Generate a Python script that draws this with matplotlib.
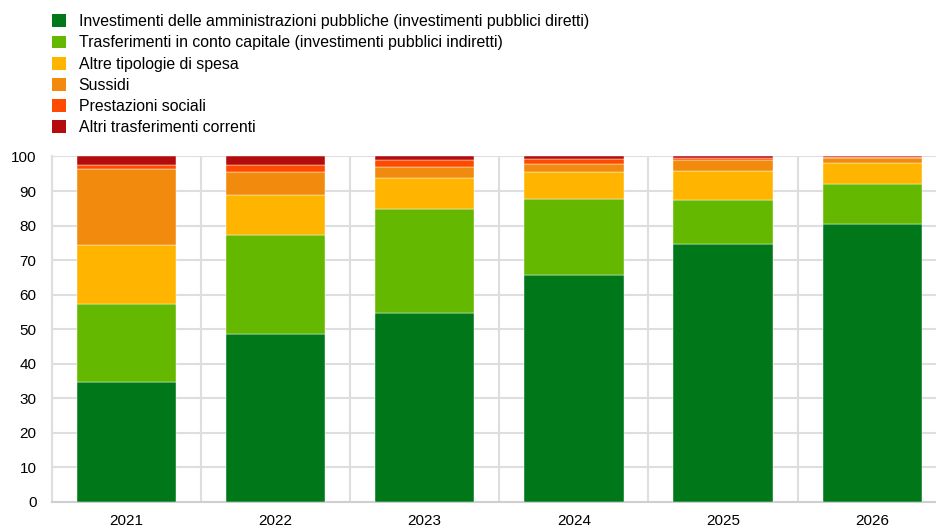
import numpy as np
import matplotlib.pyplot as plt
from matplotlib.patches import Patch

plt.rcParams['font.family'] = ['Liberation Sans', 'DejaVu Sans']

years = ['2021', '2022', '2023', '2024', '2025', '2026']
series = [
    'Investimenti delle amministrazioni pubbliche (investimenti pubblici diretti)',
    'Trasferimenti in conto capitale (investimenti pubblici indiretti)',
    'Altre tipologie di spesa',
    'Sussidi',
    'Prestazioni sociali',
    'Altri trasferimenti correnti',
]
investimenti_diretti = [34.7, 48.5, 54.8, 65.7, 74.7, 80.5]
trasferimenti_capitale = [22.7, 28.7, 29.9, 21.9, 12.6, 11.6]
altre_spese = [17.0, 11.6, 9.1, 8.0, 8.4, 6.1]
sussidi = [22.0, 6.7, 3.1, 2.2, 3.3, 1.3]
prestazioni_sociali = [1.1, 2.0, 2.1, 1.4, 0.6, 0.3]
altri_trasferimenti = [2.5, 2.5, 1.0, 0.8, 0.4, 0.2]
colors = ['#00781a', '#65b800', '#ffb400', '#f28a0e', '#ff4b00', '#b40c0c']

values = [investimenti_diretti, trasferimenti_capitale, altre_spese,
          sussidi, prestazioni_sociali, altri_trasferimenti]

fig = plt.figure(figsize=(9.36, 5.29), dpi=100)
# the plot area runs a little past the right edge of the image
ax = fig.add_axes([0.0552, 0.0514, 0.9564, 0.6528])

x = np.arange(len(years))
bottom = np.zeros(len(years))
for vals, col in zip(values, colors):
    ax.bar(x, vals, width=0.666, bottom=bottom, color=col,
           edgecolor='#ffffff', linewidth=0.3, zorder=3)
    bottom += np.array(vals)

ax.set_xlim(-0.5, len(years) - 0.5)
ax.set_ylim(0, 100)
ax.set_yticks(np.arange(0, 101, 10))
ax.set_xticks(x)
ax.set_xticklabels(years)
ax.set_xticks(np.arange(-0.5, len(years)), minor=True)
ax.grid(axis='y', color='#dedede', linewidth=1.5, zorder=0)
ax.grid(axis='x', which='minor', color='#dedede', linewidth=1.5, zorder=0)
ax.grid(axis='x', which='major', visible=False)
ax.tick_params(axis='both', which='both', length=0, labelsize=11, colors='#000000')
ax.tick_params(axis='x', pad=9)
ax.tick_params(axis='y', pad=11)
for s in ['top', 'right']:
    ax.spines[s].set_visible(False)
ax.spines['left'].set_color('#dedede')
ax.spines['left'].set_linewidth(1.5)
ax.spines['bottom'].set_color('#cfcfcf')
ax.spines['bottom'].set_linewidth(1.5)

handles = [Patch(facecolor=c, edgecolor='none') for c in colors]
fig.legend(handles, series, loc='upper left', bbox_to_anchor=(0.0552, 0.973),
           frameon=False, fontsize=11.4, handlelength=0.88, handleheight=0.88,
           handletextpad=0.82, labelspacing=0.39, borderpad=0, borderaxespad=0)

fig.savefig('out.png', dpi=100)
